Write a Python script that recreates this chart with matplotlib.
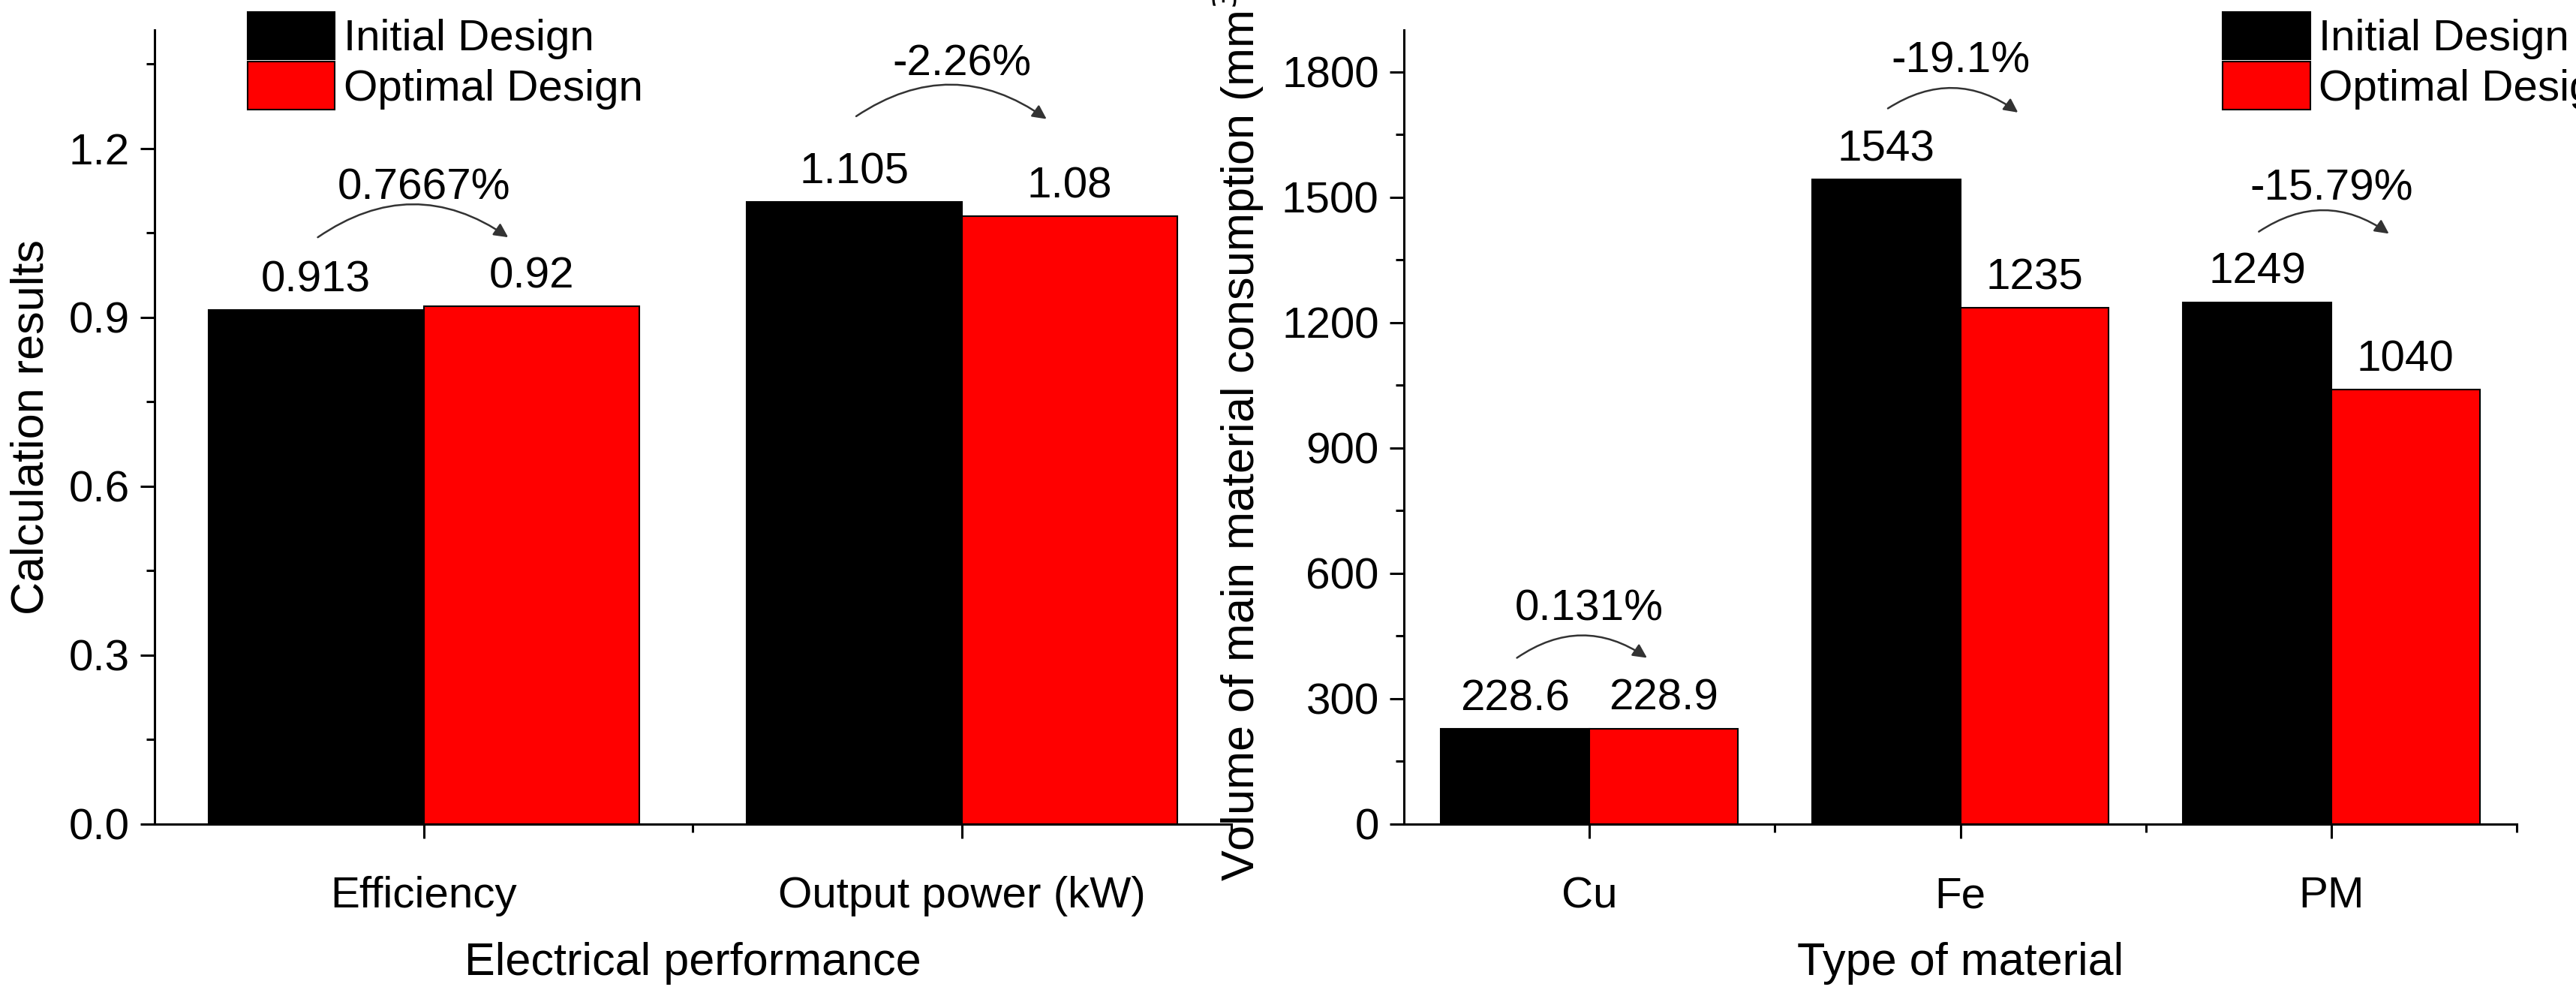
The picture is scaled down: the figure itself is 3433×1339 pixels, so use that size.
import matplotlib
matplotlib.use("Agg")
import matplotlib.pyplot as plt
import numpy as np
from matplotlib.ticker import MultipleLocator

plt.rcParams['font.family'] = ['Liberation Sans', 'DejaVu Sans']

perf_categories = ["Efficiency", "Output power (kW)"]
perf_initial = [0.913, 1.105]
perf_optimal = [0.92, 1.08]
perf_initial_labels = ["0.913", "1.105"]
perf_optimal_labels = ["0.92", "1.08"]
perf_changes = ["0.7667%", "-2.26%"]

mat_categories = ["Cu", "Fe", "PM"]
mat_initial = [228.6, 1543, 1249]
mat_optimal = [228.9, 1235, 1040]
mat_initial_labels = ["228.6", "1543", "1249"]
mat_optimal_labels = ["228.9", "1235", "1040"]
mat_changes = ["0.131%", "-19.1%", "-15.79%"]

series_names = ["Initial Design", "Optimal Design"]

fig = plt.figure(figsize=(34.33, 13.39), dpi=100)
ax1 = fig.add_axes([0.06, 0.18, 0.418, 0.79])
ax2 = fig.add_axes([0.545, 0.18, 0.432, 0.79])

W = 0.4
FS = 42

def draw(ax, cats, a, b, la, lb, ch, ymax, major, arcs):
    x = np.arange(1, len(cats) + 1)
    ax.bar(x - W/2, a, W, color='black', edgecolor='black', lw=1.5, label=series_names[0])
    ax.bar(x + W/2, b, W, color='#ff0000', edgecolor='black', lw=1.5, label=series_names[1])
    off = ymax * 0.012
    for xi, v, t in zip(x - W/2, a, la):
        ax.text(xi, v + off, t, ha='center', va='bottom', fontsize=FS)
    for xi, v, t in zip(x + W/2, b, lb):
        ax.text(xi, v + off, t, ha='center', va='bottom', fontsize=FS)
    for xi, (ys, ye, yt), t in zip(x, arcs, ch):
        ax.annotate("", xy=(xi + 0.16, ye), xytext=(xi - 0.2, ys),
                    arrowprops=dict(arrowstyle='-|>', color='#333333', lw=1.8,
                                    connectionstyle='arc3,rad=-0.35', mutation_scale=28))
        ax.text(xi, yt, t, ha='center', va='center', fontsize=FS)
    ax.set_xlim(0.5, len(cats) + 0.5)
    ax.set_ylim(0, ymax)
    ax.set_xticks(x)
    ax.set_xticklabels(cats)
    ax.set_xticks(np.arange(1.5, len(cats) + 0.6, 1.0), minor=True)
    ax.yaxis.set_major_locator(MultipleLocator(major))
    ax.yaxis.set_minor_locator(MultipleLocator(major / 2))
    for s in ['top', 'right']:
        ax.spines[s].set_visible(False)
    for s in ['left', 'bottom']:
        ax.spines[s].set_linewidth(2.2)
    ax.tick_params(which='major', length=14, width=2.2, labelsize=FS, pad=10)
    ax.tick_params(which='minor', length=8, width=2.2)
    ax.tick_params(axis='x', which='both', pad=36)

draw(ax1, perf_categories, perf_initial, perf_optimal, perf_initial_labels,
     perf_optimal_labels, perf_changes, 1.41, 0.3,
     [(1.04, 1.04, 1.13), (1.255, 1.25, 1.35)])
ax1.yaxis.set_major_formatter(matplotlib.ticker.FormatStrFormatter('%.1f'))
ax1.set_xlabel("Electrical performance", fontsize=44, labelpad=24)
ax1.set_ylabel("Calculation results", fontsize=44, labelpad=15)

draw(ax2, mat_categories, mat_initial, mat_optimal, mat_initial_labels,
     mat_optimal_labels, mat_changes, 1900, 300,
     [(395, 395, 515), (1710, 1700, 1825), (1415, 1410, 1520)])
ax2.set_xlabel("Type of material", fontsize=44, labelpad=24)
ax2.set_ylabel("Volume of main material consumption (mm$^3$)", fontsize=44, labelpad=15)

for ax, bx in [(ax1, 0.07), (ax2, 0.72)]:
    ax.legend(loc='upper left', bbox_to_anchor=(bx, 1.045), frameon=False, fontsize=FS,
              handlelength=2.0, handleheight=1.3, labelspacing=0.05, handletextpad=0.2,
              borderaxespad=0)

fig.savefig("out.png", dpi=100)
